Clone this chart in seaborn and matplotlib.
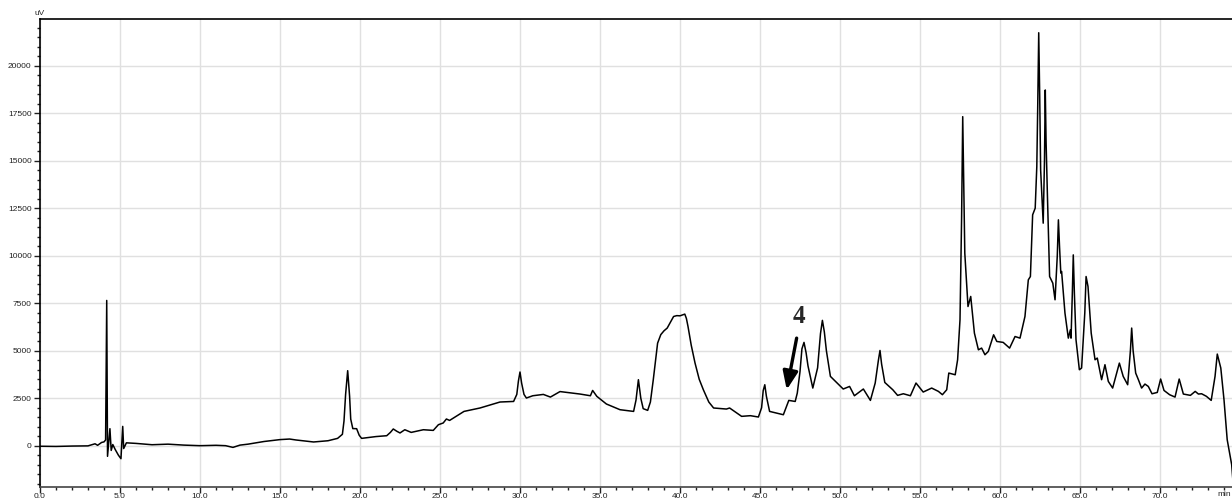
import matplotlib
matplotlib.use("Agg")
import matplotlib.pyplot as plt
from matplotlib.ticker import MultipleLocator
import numpy as np
import seaborn as sns

# retention time (min) and detector signal (uV)
time_min = [0.0, 1.0, 2.0, 3.0, 3.44, 3.6, 3.85, 4.0, 4.1, 4.17, 4.22, 4.3, 4.37, 4.45, 4.55,
            4.7, 4.9, 5.06, 5.12, 5.17, 5.23, 5.4, 6.0, 7.0, 8.0, 9.0, 10.0, 11.0, 11.6, 12.06,
            12.5, 13.0, 14.0, 15.0, 15.6, 16.0, 17.1, 18.0, 18.6, 18.9, 19.0, 19.1, 19.23, 19.35,
            19.42, 19.55, 19.79, 19.95, 20.1, 21.0, 21.67, 21.9, 22.08, 22.3, 22.5, 22.8, 23.2,
            23.96, 24.58, 24.9, 25.2, 25.4, 25.6, 26.5, 27.5, 28.75, 29.6, 29.8, 29.9, 30.0, 30.1,
            30.25, 30.4, 30.8, 31.46, 31.9, 32.5, 33.75, 34.4, 34.54, 34.8, 35.4, 36.25, 37.1, 37.25,
            37.4, 37.55, 37.7, 37.98, 38.15, 38.33, 38.6, 38.8, 39.0, 39.2, 39.4, 39.6, 39.8, 40.0,
            40.2, 40.3, 40.4, 40.5, 40.7, 40.94, 41.2, 41.46, 41.8, 42.1, 42.9, 43.1, 43.85, 44.4,
            44.9, 45.1, 45.2, 45.3, 45.4, 45.6, 46.46, 46.8, 47.2, 47.33, 47.5, 47.62, 47.75, 47.88,
            48.0, 48.3, 48.6, 48.78, 48.9, 49.02, 49.15, 49.4, 50.2, 50.6, 50.9, 51.46, 51.9, 52.2,
            52.4, 52.5, 52.6, 52.8, 53.3, 53.6, 53.96, 54.4, 54.75, 55.2, 55.73, 56.15, 56.4, 56.67,
            56.8, 57.2, 57.35, 57.5, 57.6, 57.67, 57.74, 57.8, 58.0, 58.17, 58.4, 58.65, 58.85, 59.06,
            59.27, 59.6, 59.8, 60.2, 60.6, 60.94, 61.25, 61.56, 61.77, 61.9, 62.04, 62.2, 62.3, 62.36,
            62.42, 62.48, 62.54, 62.7, 62.78, 62.83, 62.88, 62.96, 63.1, 63.3, 63.44, 63.58, 63.65,
            63.72, 63.8, 63.85, 64.06, 64.27, 64.4, 64.44, 64.52, 64.58, 64.65, 64.75, 64.96, 65.1,
            65.3, 65.38, 65.5, 65.7, 65.94, 66.08, 66.35, 66.56, 66.77, 67.04, 67.46, 67.7, 67.98,
            68.15, 68.23, 68.32, 68.48, 68.65, 68.85, 69.06, 69.27, 69.5, 69.83, 70.04, 70.25, 70.6,
            70.94, 71.2, 71.46, 71.9, 72.2, 72.4, 72.6, 72.9, 73.2, 73.44, 73.58, 73.8, 74.0, 74.2,
            74.48, 74.6]
signal_uv = [-30, -40, -20, -10, 100, 20, 170, 200, 300, 7650, -560, 200, 895, -250, 60,
             -200, -500, -685, 300, 1015, -150, 150, 120, 50, 80, 30, 0, 20, 0, -90,
             30, 80, 220, 320, 350, 300, 195, 260, 385, 600, 1300, 2700, 3950, 2600,
             1400, 900, 895, 550, 385, 480, 525, 700, 880, 760, 670, 840, 700,
             840, 805, 1105, 1195, 1405, 1330, 1805, 1985, 2300, 2330, 2700, 3400, 3880, 3300,
             2700, 2510, 2630, 2700, 2560, 2850, 2720, 2630, 2910, 2600, 2195, 1895, 1805, 2400,
             3475, 2500, 1950, 1860, 2300, 3475, 5400, 5850, 6050, 6195, 6500, 6805, 6850, 6840,
             6900, 6930, 6700, 6280, 5300, 4350, 3500, 2945, 2300, 1985, 1930, 1985, 1545, 1580,
             1510, 2000, 2900, 3210, 2600, 1805, 1630, 2385, 2330, 2770, 3900, 5100, 5440, 4900,
             4200, 3035, 4100, 5900, 6600, 6000, 5000, 3650, 2985, 3120, 2630, 2985, 2385, 3300,
             4500, 5015, 4300, 3330, 2945, 2650, 2735, 2630, 3300, 2825, 3035, 2860, 2685, 2945,
             3825, 3735, 4525, 6630, 12000, 17330, 13500, 10140, 7330, 7860, 5930, 5050, 5140, 4790,
             4965, 5840, 5490, 5440, 5140, 5750, 5665, 6805, 8735, 8910, 12160, 12510, 14700, 18000,
             21750, 18500, 14525, 11720, 15000, 18735, 16000, 13300, 8910, 8560, 7685, 10000, 11895,
             10500, 9090, 9175, 6985, 5665, 6105, 5665, 8000, 10050, 8000, 5580, 4000, 4090,
             7000, 8910, 8385, 5930, 4525, 4615, 3475, 4265, 3385, 3035, 4350, 3650, 3210,
             5000, 6195, 5000, 3825, 3475, 3035, 3245, 3120, 2735, 2805, 3510, 2910, 2685,
             2560, 3510, 2720, 2650, 2860, 2720, 2735, 2600, 2385, 3650, 4825, 4090, 2420, 315,
             -1000, -2300]

x_ticks = np.arange(0, 75, 5)
x_labels = [f"{v:.1f}" for v in x_ticks]
y_ticks = np.arange(0, 22500, 2500)

sns.set_style("white")
plt.rcParams['font.family'] = ['Liberation Sans', 'DejaVu Sans']

fig = plt.figure(figsize=(12.32, 5), dpi=100)
ax = fig.add_axes([40 / 1232, 13.5 / 500, 1192 / 1232, 467.2 / 500])

sns.lineplot(x=time_min, y=signal_uv, color="black", linewidth=1.1,
             estimator=None, sort=False, ax=ax, zorder=3)

ax.set_xlim(0, 74.5)
ax.set_ylim(-2150, 22458)
ax.set_xticks(x_ticks)
ax.set_xticklabels(x_labels)
ax.set_yticks(y_ticks)
ax.xaxis.set_minor_locator(MultipleLocator(1))
ax.yaxis.set_minor_locator(MultipleLocator(500))
ax.tick_params(which="major", direction="out", length=4, width=1, labelsize=6, pad=1,
               bottom=True, left=True, colors="#222222")
ax.tick_params(which="minor", direction="out", length=2.5, width=1, bottom=True, left=True,
               colors="#222222")
ax.tick_params(axis="y", pad=2)
ax.grid(True, which="major", color="#e0e0e0", linewidth=1, zorder=0)
ax.set_xlabel("")
ax.set_ylabel("")

for side in ["left", "bottom", "top"]:
    ax.spines[side].set_visible(True)
    ax.spines[side].set_color("black")
    ax.spines[side].set_linewidth(1.2)
ax.spines["right"].set_visible(False)
ax.spines["bottom"].set_color("#444444")

ax.text(0, 1.004, "uV", transform=ax.transAxes, ha="center", va="bottom", fontsize=6)
ax.text(74, -0.0105, "min", transform=ax.get_xaxis_transform(), ha="center", va="top",
        fontsize=6, color="#222222")

# peak 4 marker
ax.annotate("", xy=(46.67, 2945), xytext=(47.29, 5665),
            arrowprops=dict(arrowstyle="-|>,head_width=0.45,head_length=1.1",
                            color="black", lw=2.4, shrinkA=0, shrinkB=0), zorder=4)
ax.text(47.44, 6805, "4", ha="center", va="center", fontsize=18, fontweight="bold",
        family=["Liberation Serif", "DejaVu Serif"])

plt.savefig("out.png", dpi=100)
